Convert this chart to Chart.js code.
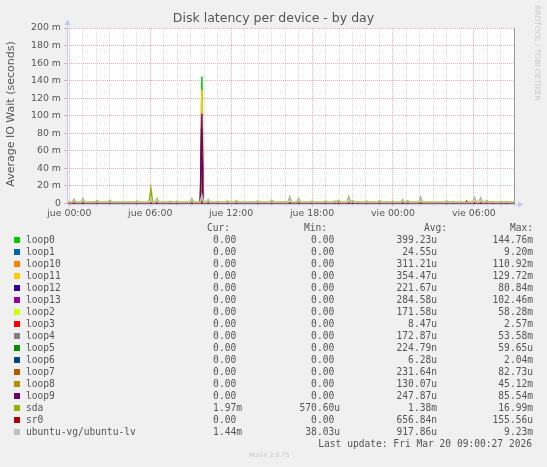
<!DOCTYPE html>
<html>
<head>
<meta charset="utf-8">
<title>Disk latency per device - by day</title>
<script src="https://cdn.jsdelivr.net/npm/chart.js@4/dist/chart.umd.min.js"></script>
<style>
    body { margin: 0; background: #f0f0f0; }
    #wrap { position: relative; width: 547px; height: 467px; overflow: hidden; font-family: "DejaVu Sans", sans-serif; color: #555; }
    #chart { position: absolute; left: 0; top: 0; }
    .title { position: absolute; left: 0; width: 547px; top: 10px; text-align: center; font-size: 12.5px; line-height: 16px; }
    .ylabel { position: absolute; left: -64px; width: 150px; top: 107px; height: 14px; line-height: 14px; text-align: center;
        font-size: 11px; font-weight: normal; color: #555; white-space: nowrap; transform: rotate(-90deg); }
    .rrd { position: absolute; left: 487px; width: 100px; top: 48px; height: 10px; line-height: 10px; text-align: center;
        font-size: 7.4px; color: #c8c8c8; white-space: nowrap; transform: rotate(90deg); }
    .munin { position: absolute; left: 0; width: 538px; top: 451px; text-align: center; font-size: 6.3px; color: #c8c8c8; }
    .legend { position: absolute; left: 0; top: 0; font-family: "DejaVu Sans Mono", monospace; font-size: 9.6px; color: #555; white-space: pre; }
    .row { position: absolute; left: 0; width: 547px; height: 12px; line-height: 12px; }
    .row span { position: absolute; }
    .sw { width: 6px; height: 6px; left: 14px; top: 3px; }
</style>
</head>
<body>
<div id="wrap">
    <canvas id="chart" width="547" height="467"></canvas>
    <div class="title">Disk latency per device - by day</div>
    <div class="ylabel">Average IO Wait (seconds)</div>
    <div class="rrd">RRDTOOL / TOBI OETIKER</div>
    <div class="legend" id="legend"></div>
    <div class="munin">Munin 2.0.75</div>
</div>
<script>
// Series names and colours (munin palette)
const seriesNames = ['loop0', 'loop1', 'loop10', 'loop11', 'loop12', 'loop13', 'loop2', 'loop3', 'loop4',
    'loop5', 'loop6', 'loop7', 'loop8', 'loop9', 'sda', 'sr0', 'ubuntu-vg/ubuntu-lv'];
const seriesColors = ['#00CC00', '#0066B3', '#FF8000', '#FFCC00', '#330099', '#990099', '#CCFF00', '#FF0000', '#808080',
    '#008F00', '#00487D', '#B35A00', '#B38F00', '#6B006B', '#8FB300', '#B30000', '#BEBEBE'];

// Legend values as printed by munin
const curValues = ['0.00', '0.00', '0.00', '0.00', '0.00', '0.00', '0.00', '0.00', '0.00',
    '0.00', '0.00', '0.00', '0.00', '0.00', '1.97m', '0.00', '1.44m'];
const minValues = ['0.00', '0.00', '0.00', '0.00', '0.00', '0.00', '0.00', '0.00', '0.00',
    '0.00', '0.00', '0.00', '0.00', '0.00', '570.60u', '0.00', '38.03u'];
const avgValues = ['399.23u', '24.55u', '311.21u', '354.47u', '221.67u', '284.58u', '171.58u', '8.47u', '172.87u',
    '224.79n', '6.28u', '231.64n', '130.07u', '247.87u', '1.38m', '656.84n', '917.86u'];
const maxValues = ['144.76m', '9.20m', '110.92m', '129.72m', '80.84m', '102.46m', '58.28m', '2.57m', '53.58m',
    '59.65u', '2.04m', '82.73u', '45.12m', '85.54m', '16.99m', '155.56u', '9.23m'];
const lastUpdate = 'Last update: Fri Mar 20 09:00:27 2026';

// Axis ticks (x in hours since jue 00:00, y in milliseconds)
const xMin = -0.17;
const xMax = 33.05;
const xTickHours = [0, 6, 12, 18, 24, 30];
const xTickLabels = ['jue 00:00', 'jue 06:00', 'jue 12:00', 'jue 18:00', 'vie 00:00', 'vie 06:00'];
const yTickValues = [0, 20, 40, 60, 80, 100, 120, 140, 160, 180, 200];
const yTickLabels = ['0', '20 m', '40 m', '60 m', '80 m', '100 m', '120 m', '140 m', '160 m', '180 m', '200 m'];

// Readings [hour, ms]
const loop0 = [[-0.17, 0], [9.73, 0], [9.83, 144.76], [9.93, 0], [33.05, 0]];
const loop1 = [[-0.17, 0], [9.73, 0], [9.83, 9.2], [9.93, 0], [33.05, 0]];
const loop10 = [[-0.17, 0], [9.73, 0], [9.83, 110.92], [9.93, 0], [33.05, 0]];
const loop11 = [[-0.17, 0], [9.73, 0], [9.83, 129.72], [9.93, 0], [33.05, 0]];
const loop12 = [[-0.17, 0], [9.73, 0], [9.83, 80.84], [9.93, 0], [33.05, 0]];
const loop13 = [[-0.17, 0], [9.73, 0], [9.83, 102.46], [9.93, 0], [33.05, 0]];
const loop2 = [[-0.17, 0], [9.73, 0], [9.83, 58.28], [9.93, 0], [33.05, 0]];
const loop3 = [[-0.17, 0], [29.38, 0], [29.46, 2.57], [29.54, 0], [33.05, 0]];
const loop4 = [[-0.17, 0], [9.73, 0], [9.83, 53.58], [9.93, 0], [33.05, 0]];
const loop5 = [[-0.17, 0], [9.73, 0], [9.83, 0.06], [9.93, 0], [33.05, 0]];
const loop6 = [[-0.17, 0], [9.73, 0], [9.83, 2.04], [9.93, 0], [33.05, 0]];
const loop7 = [[-0.17, 0], [9.73, 0], [9.83, 0.08], [9.93, 0], [33.05, 0]];
const loop8 = [[-0.17, 0], [9.73, 0], [9.83, 45.12], [9.93, 0], [33.05, 0]];
const loop9 = [[-0.17, 0], [9.71, 0], [9.81, 85.54], [9.91, 0], [33.05, 0]];
const sda = [
    [-0.17, 1.5], [0.22, 1.5], [0.35, 4.5], [0.48, 1.5], [0.88, 1.5], [1.01, 5.5], [1.14, 1.5],
    [1.92, 1.5], [2.05, 3.2], [2.18, 1.5], [2.88, 1.5], [3.01, 3.5], [3.14, 1.5], [4.88, 1.5], [5.01, 2.6], [5.14, 1.5],
    [5.92, 1.5], [6.05, 16.99], [6.18, 1.5], [6.37, 1.5], [6.5, 5.5], [6.63, 1.5], [7.33, 1.5], [7.46, 2.5], [7.59, 1.5],
    [7.85, 1.5], [7.98, 2.5], [8.11, 1.5], [8.96, 1.5], [9.09, 5.2], [9.22, 1.5], [9.7, 1.5], [9.83, 8.0], [9.96, 1.5],
    [10.17, 1.5], [10.3, 4.5], [10.43, 1.5], [10.86, 1.5], [10.99, 2.2], [11.12, 1.5], [11.6, 1.5], [11.73, 2.6], [11.86, 1.5],
    [12.26, 1.5], [12.39, 3.2], [12.52, 1.5], [13.85, 1.5], [13.98, 2.6], [14.11, 1.5], [14.88, 1.5], [15.01, 3.6], [15.14, 1.5],
    [16.22, 1.5], [16.35, 7.6], [16.48, 1.5], [16.88, 1.5], [17.01, 5.6], [17.14, 1.5], [17.85, 1.5], [17.98, 2.5], [18.11, 1.5],
    [18.88, 1.5], [19.01, 2.6], [19.14, 1.5], [19.55, 1.5], [19.68, 2.6], [19.81, 1.5], [19.85, 1.5], [19.98, 3.6], [20.11, 1.5],
    [20.59, 1.5], [20.72, 7.6], [20.85, 1.5], [20.88, 1.5], [21.01, 3.2], [21.14, 1.5], [21.26, 1.5], [21.39, 2.2], [21.52, 1.5],
    [21.92, 1.5], [22.05, 2.6], [22.18, 1.5], [22.88, 1.5], [23.01, 3.2], [23.14, 1.5], [23.85, 1.5], [23.98, 2.5], [24.11, 1.5],
    [24.59, 1.5], [24.72, 4.2], [24.85, 1.5], [24.96, 1.5], [25.09, 3.2], [25.22, 1.5], [25.92, 1.5], [26.05, 7.2], [26.18, 1.5],
    [27.86, 1.5], [27.99, 2.6], [28.12, 1.5], [28.37, 1.5], [28.5, 2.2], [28.63, 1.5], [29.92, 1.5], [30.05, 6.8], [30.18, 1.5],
    [30.37, 1.5], [30.5, 6.2], [30.63, 1.5], [30.81, 1.5], [30.94, 3.2], [31.07, 1.5], [31.26, 1.5], [31.39, 2.2], [31.52, 1.5],
    [31.92, 1.5], [32.05, 2.2], [32.18, 1.5], [32.29, 1.5], [32.42, 2.2], [32.55, 1.5], [33.05, 1.5]
];
const sr0 = [[-0.17, 0], [9.73, 0], [9.83, 0.16], [9.93, 0], [33.05, 0]];
const ubuntuLv = [
    [-0.17, 0.6], [0.22, 0.6], [0.35, 4.0], [0.48, 0.6], [0.88, 0.6], [1.01, 5.0], [1.14, 0.6],
    [1.92, 0.6], [2.05, 2.6], [2.18, 0.6], [2.88, 0.6], [3.01, 2.6], [3.14, 0.6], [4.88, 0.6], [5.01, 2.0], [5.14, 0.6],
    [5.92, 0.6], [6.05, 5.0], [6.18, 0.6], [6.37, 0.6], [6.5, 5.0], [6.63, 0.6], [7.33, 0.6], [7.46, 2.0], [7.59, 0.6],
    [7.85, 0.6], [7.98, 2.0], [8.11, 0.6], [8.96, 0.6], [9.09, 4.6], [9.22, 0.6], [9.7, 0.6], [9.83, 9.23], [9.96, 0.6],
    [10.17, 0.6], [10.3, 4.0], [10.43, 0.6], [10.86, 0.6], [10.99, 1.8], [11.12, 0.6], [11.6, 0.6], [11.73, 2.0], [11.86, 0.6],
    [12.26, 0.6], [12.39, 2.6], [12.52, 0.6], [13.85, 0.6], [13.98, 2.0], [14.11, 0.6], [14.88, 0.6], [15.01, 2.6], [15.14, 0.6],
    [16.22, 0.6], [16.35, 7.0], [16.48, 0.6], [16.88, 0.6], [17.01, 5.0], [17.14, 0.6], [17.85, 0.6], [17.98, 2.0], [18.11, 0.6],
    [18.88, 0.6], [19.01, 2.2], [19.14, 0.6], [19.55, 0.6], [19.68, 2.2], [19.81, 0.6], [19.85, 0.6], [19.98, 2.6], [20.11, 0.6],
    [20.59, 0.6], [20.72, 6.0], [20.85, 0.6], [20.88, 0.6], [21.01, 2.6], [21.14, 0.6], [21.26, 0.6], [21.39, 1.8], [21.52, 0.6],
    [21.92, 0.6], [22.05, 2.0], [22.18, 0.6], [22.88, 0.6], [23.01, 2.6], [23.14, 0.6], [23.85, 0.6], [23.98, 2.0], [24.11, 0.6],
    [24.59, 0.6], [24.72, 3.6], [24.85, 0.6], [24.96, 0.6], [25.09, 2.6], [25.22, 0.6], [25.92, 0.6], [26.05, 6.0], [26.18, 0.6],
    [27.86, 0.6], [27.99, 2.0], [28.12, 0.6], [28.37, 0.6], [28.5, 1.8], [28.63, 0.6], [29.92, 0.6], [30.05, 6.0], [30.18, 0.6],
    [30.37, 0.6], [30.5, 5.5], [30.63, 0.6], [30.81, 0.6], [30.94, 2.6], [31.07, 0.6], [31.26, 0.6], [31.39, 1.8], [31.52, 0.6],
    [31.92, 0.6], [32.05, 1.8], [32.18, 0.6], [32.29, 0.6], [32.42, 1.8], [32.55, 0.6], [33.05, 0.6]
];
const seriesData = [loop0, loop1, loop10, loop11, loop12, loop13, loop2, loop3, loop4,
    loop5, loop6, loop7, loop8, loop9, sda, sr0, ubuntuLv];

const majorGrid = 'rgba(222, 100, 100, 0.5)';
const minorGrid = 'rgba(150, 150, 150, 0.35)';
const axisColor = '#c4c8f2';

// White plot background, axes with arrows and right edge marker
const muninFrame = {
    id: 'muninFrame',
    beforeDraw(chart) {
        const { ctx, chartArea: a } = chart;
        ctx.save();
        ctx.fillStyle = '#ffffff';
        ctx.fillRect(a.left, a.top, a.right - a.left, a.bottom - a.top);
        ctx.restore();
    },
    afterDatasetsDraw(chart) {
        const { ctx, chartArea: a } = chart;
        const x0 = Math.round(a.left) + 0.5;
        const y0 = Math.round(a.bottom) + 0.5;
        ctx.save();
        ctx.lineWidth = 1;
        ctx.strokeStyle = '#999999';
        ctx.beginPath();
        ctx.moveTo(Math.round(a.right) - 0.5, a.top);
        ctx.lineTo(Math.round(a.right) - 0.5, y0);
        ctx.stroke();
        ctx.strokeStyle = axisColor;
        ctx.fillStyle = axisColor;
        ctx.beginPath();
        ctx.moveTo(x0, y0);
        ctx.lineTo(x0, a.top - 4);
        ctx.moveTo(x0, y0);
        ctx.lineTo(a.right + 4, y0);
        ctx.stroke();
        ctx.beginPath();
        ctx.moveTo(x0 - 3, a.top - 3);
        ctx.lineTo(x0 + 3, a.top - 3);
        ctx.lineTo(x0, a.top - 9);
        ctx.closePath();
        ctx.fill();
        ctx.beginPath();
        ctx.moveTo(a.right + 3, y0 - 3);
        ctx.lineTo(a.right + 3, y0 + 3);
        ctx.lineTo(a.right + 9, y0);
        ctx.closePath();
        ctx.fill();
        ctx.restore();
    }
};

// Build the line chart
function initLatencyChart() {
    const ctx = document.getElementById('chart').getContext('2d');
    const n = seriesNames.length;
    const datasets = seriesNames.map((name, i) => ({
        label: name,
        data: seriesData[i].map(p => ({ x: p[0], y: p[1] })),
        borderColor: seriesColors[i],
        backgroundColor: seriesColors[i],
        borderWidth: 1.5,
        pointRadius: 0,
        tension: 0,
        fill: false,
        order: n - i
    }));

    new Chart(ctx, {
        type: 'line',
        data: { datasets: datasets },
        options: {
            responsive: false,
            animation: false,
            events: [],
            layout: { padding: { left: 0, top: 28, right: 32, bottom: 243.5 } },
            plugins: { legend: { display: false }, tooltip: { enabled: false } },
            scales: {
                x: {
                    type: 'linear',
                    min: xMin,
                    max: xMax,
                    afterBuildTicks: scale => {
                        const ticks = [];
                        for (let h = 0; h <= 33; h++) ticks.push({ value: h });
                        scale.ticks = ticks;
                    },
                    afterFit: scale => { scale.height = 20; },
                    border: { display: false, dash: [1, 1] },
                    grid: {
                        color: c => (c.tick && xTickHours.includes(c.tick.value)) ? majorGrid : minorGrid,
                        tickLength: 3
                    },
                    ticks: {
                        autoSkip: false,
                        maxRotation: 0,
                        padding: 1,
                        color: '#555',
                        font: { family: 'DejaVu Sans', size: 9.4 },
                        callback: v => {
                            const k = xTickHours.indexOf(v);
                            return k >= 0 ? xTickLabels[k] : '';
                        }
                    }
                },
                y: {
                    min: 0,
                    max: 200,
                    afterFit: scale => { scale.width = 67; },
                    border: { display: false, dash: [1, 1] },
                    grid: {
                        color: c => (c.tick && yTickValues.includes(c.tick.value)) ? majorGrid : minorGrid,
                        tickLength: 3
                    },
                    ticks: {
                        stepSize: 10,
                        padding: 3,
                        color: '#555',
                        font: { family: 'DejaVu Sans', size: 9.4 },
                        callback: v => {
                            const k = yTickValues.indexOf(v);
                            return k >= 0 ? yTickLabels[k] : '';
                        }
                    }
                }
            }
        },
        plugins: [muninFrame]
    });
}

// Munin style legend table
function buildLegend() {
    const legend = document.getElementById('legend');
    const colRight = [547 - 242, 547 - 340, 547 - 437, 547 - 533];
    const cell = (text, right) => {
        const s = document.createElement('span');
        s.style.right = right + 'px';
        s.textContent = /[a-z]$/.test(text) ? text : text + ' ';
        return s;
    };
    const header = document.createElement('div');
    header.className = 'row';
    header.style.top = '222px';
    [['Cur:', 207], ['Min:', 304], ['Avg:', 424], ['Max:', 510]].forEach(h => {
        const s = document.createElement('span');
        s.style.left = h[1] + 'px';
        s.textContent = h[0];
        header.appendChild(s);
    });
    legend.appendChild(header);

    seriesNames.forEach((name, i) => {
        const row = document.createElement('div');
        row.className = 'row';
        row.style.top = (234 + 12 * i) + 'px';
        const sw = document.createElement('span');
        sw.className = 'sw';
        sw.style.background = seriesColors[i];
        row.appendChild(sw);
        const label = document.createElement('span');
        label.style.left = '26px';
        label.textContent = name;
        row.appendChild(label);
        row.appendChild(cell(curValues[i], colRight[0]));
        row.appendChild(cell(minValues[i], colRight[1]));
        row.appendChild(cell(avgValues[i], colRight[2]));
        row.appendChild(cell(maxValues[i], colRight[3]));
        legend.appendChild(row);
    });

    const upd = document.createElement('div');
    upd.className = 'row';
    upd.style.top = (234 + 12 * seriesNames.length) + 'px';
    const s = document.createElement('span');
    s.style.right = (547 - 532) + 'px';
    s.textContent = lastUpdate;
    upd.appendChild(s);
    legend.appendChild(upd);
}

document.addEventListener('DOMContentLoaded', () => {
    buildLegend();
    initLatencyChart();
});
</script>
</body>
</html>
